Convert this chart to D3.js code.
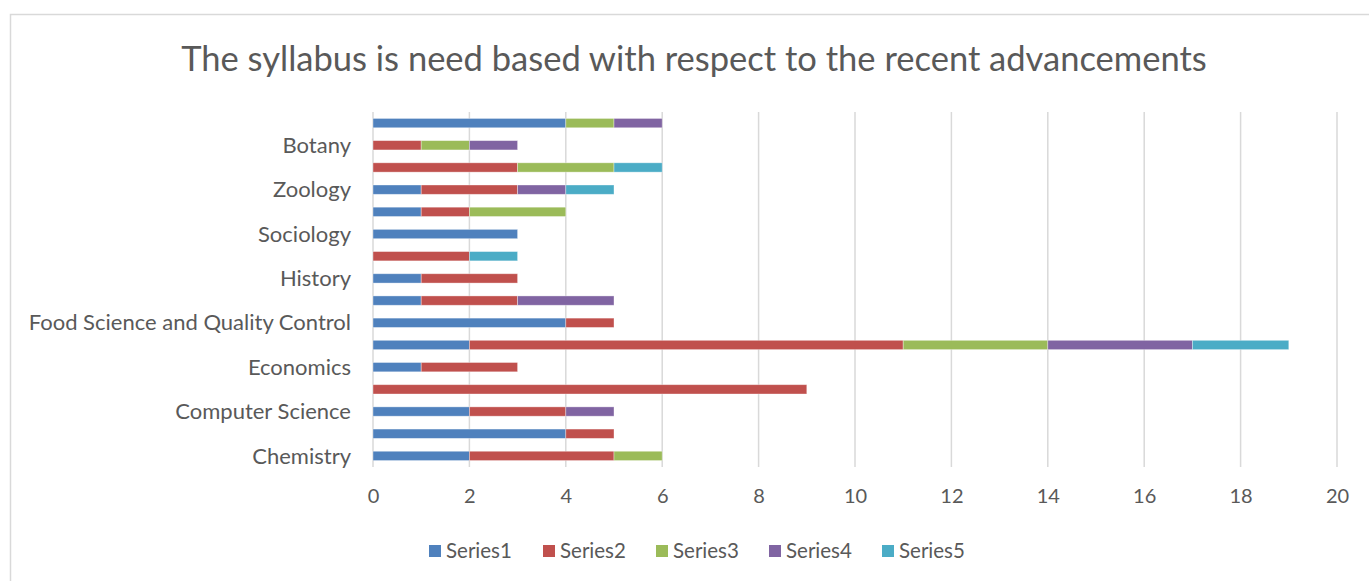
<!DOCTYPE html>
<html>
<head>
<meta charset="utf-8">
<script src="https://cdn.jsdelivr.net/npm/d3@7"></script>
<style>
  html, body { margin: 0; padding: 0; background: #fff; }
  svg { display: block; font-family: "Lato", "Open Sans", sans-serif; }
</style>
</head>
<body>
<svg id="chart" width="1369" height="581"></svg>
<script>
// Categories from bottom to top; only every other one carries a visible label.
const categories = [
  "Chemistry", "", "Computer Science", "", "Economics", "",
  "Food Science and Quality Control", "", "History", "", "Sociology", "",
  "Zoology", "", "Botany", ""
];
const seriesNames = ["Series1", "Series2", "Series3", "Series4", "Series5"];
const series1 = [2, 4, 2, 0, 1, 2, 4, 1, 1, 0, 3, 1, 1, 0, 0, 4];
const series2 = [3, 1, 2, 9, 2, 9, 1, 2, 2, 2, 0, 1, 2, 3, 1, 0];
const series3 = [1, 0, 0, 0, 0, 3, 0, 0, 0, 0, 0, 2, 0, 2, 1, 1];
const series4 = [0, 0, 1, 0, 0, 3, 0, 2, 0, 0, 0, 0, 1, 0, 1, 1];
const series5 = [0, 0, 0, 0, 0, 2, 0, 0, 0, 1, 0, 0, 1, 1, 0, 0];
const xTicks = [0, 2, 4, 6, 8, 10, 12, 14, 16, 18, 20];
const title = "The syllabus is need based with respect to the recent advancements";

const colors = ["#4F81BD", "#C0504D", "#9BBB59", "#8064A2", "#4BACC6"];
const allSeries = [series1, series2, series3, series4, series5];

const svg = d3.select("#chart");
const textColor = "#595959";

// outer chart frame
svg.append("rect")
  .attr("x", 10.5).attr("y", 14.5)
  .attr("width", 1400).attr("height", 600)
  .attr("fill", "none").attr("stroke", "#d9d9d9").attr("stroke-width", 1.5);

const titleText = svg.append("text")
  .attr("x", 694).attr("y", 71)
  .attr("text-anchor", "middle")
  .attr("font-size", 34)
  .attr("fill", textColor)
  .text(title);
// keep the title at its intended width (about 1026px)
const tw = titleText.node().getComputedTextLength();
titleText.attr("font-size", 34 * 1026 / tw);

const plot = { left: 373, right: 1337, top: 112, bottom: 467 };

const x = d3.scaleLinear().domain([0, 20]).range([plot.left, plot.right]);
const idx = d3.range(categories.length);
const y = d3.scaleBand().domain(idx).range([plot.bottom, plot.top]).paddingInner(0.58).paddingOuter(0.29);

// vertical gridlines
svg.append("g")
  .selectAll("line")
  .data(xTicks)
  .join("line")
  .attr("x1", d => x(d)).attr("x2", d => x(d))
  .attr("y1", plot.top).attr("y2", plot.bottom)
  .attr("stroke", "#d9d9d9").attr("stroke-width", 1.5);

// stacked bars
const rows = idx.map(i => {
  const r = { i };
  seriesNames.forEach((s, k) => r[s] = allSeries[k][i]);
  return r;
});
const stacked = d3.stack().keys(seriesNames)(rows);

svg.append("g")
  .selectAll("g")
  .data(stacked)
  .join("g")
  .attr("fill", (d, k) => colors[k])
  .selectAll("rect")
  .data(d => d.filter(p => p[1] > p[0]))
  .join("rect")
  .attr("x", d => x(d[0]))
  .attr("width", d => x(d[1]) - x(d[0]))
  .attr("y", d => y(d.data.i))
  .attr("height", y.bandwidth())
  .attr("stroke", "#ffffff").attr("stroke-opacity", 0.45).attr("stroke-width", 0.8);

// x axis labels
const xAxis = d3.axisBottom(x).tickValues(xTicks).tickSize(0).tickPadding(0);
const gx = svg.append("g").attr("transform", `translate(0, ${plot.bottom + 22})`).call(xAxis);
gx.select(".domain").remove();
gx.selectAll("text").attr("font-size", 20).attr("fill", textColor).attr("font-family", "Lato, sans-serif").attr("dy", "0.7em");

// y axis labels
const yAxis = d3.axisLeft(y).tickSize(0).tickPadding(22).tickFormat(i => categories[i]);
const gy = svg.append("g").attr("transform", `translate(${plot.left}, 0)`).call(yAxis);
gy.select(".domain").remove();
gy.selectAll("text").attr("font-size", 22).attr("fill", textColor).attr("font-family", "Lato, sans-serif").attr("dy", "0.35em");

// legend
const legendX = [429, 543, 656, 769, 882];
const legend = svg.append("g").attr("transform", "translate(0, 551)");
const items = legend.selectAll("g").data(seriesNames).join("g")
  .attr("transform", (d, k) => `translate(${legendX[k]}, 0)`);
items.append("rect").attr("x", 0).attr("y", -6).attr("width", 12).attr("height", 12)
  .attr("fill", (d, k) => colors[k]);
items.append("text").attr("x", 17).attr("y", 0).attr("dy", "0.35em")
  .attr("font-size", 20.5).attr("fill", textColor).text(d => d);
</script>
</body>
</html>
